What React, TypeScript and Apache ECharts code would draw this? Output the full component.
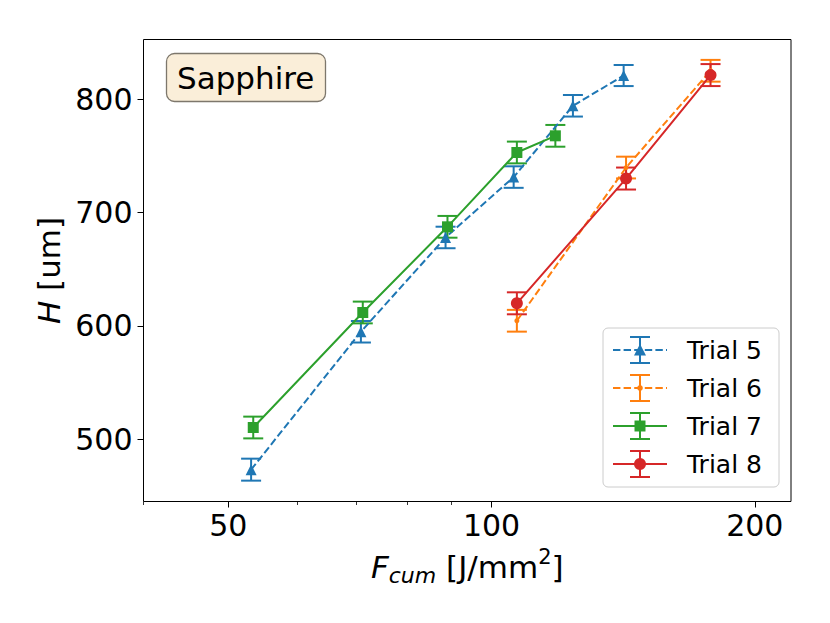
import React, { useEffect, useRef } from 'react';
import * as echarts from 'echarts';

const FONT = 'DejaVu Sans';

// ---- data ----
const trialNames = ['Trial 5', 'Trial 6', 'Trial 7', 'Trial 8'];
const trialColors = ['#1f77b4', '#ff7f0e', '#2ca02c', '#d62728'];

const trial5F = [53.1, 70.9, 88.6, 106.0, 123.9, 141.6];
const trial5H = [473.2, 594.9, 678.1, 731.4, 794.3, 821.0];
const trial5Err = [9.7, 9.5, 9.5, 9.5, 9.5, 9.3];

const trial6F = [106.9, 142.5, 178.0];
const trial6H = [604.6, 739.8, 825.2];
const trial6Err = [9.6, 9.6, 9.6];

const trial7F = [53.4, 71.25, 89.05, 106.9, 118.3];
const trial7H = [510.4, 611.9, 687.5, 753.1, 767.8];
const trial7Err = [9.6, 9.6, 9.6, 9.6, 9.6];

const trial8F = [106.9, 142.5, 178.0];
const trial8H = [620.0, 730.1, 821.4];
const trial8Err = [9.7, 9.7, 9.7];

const xMajorTicks = [50, 100, 200];
const xMinorTicks = [40, 60, 70, 80, 90];
const yTicks = [500, 600, 700, 800];
const xLimits = [40, 220];
const yLimits = [445.1, 852.8];

const L = (v: number) => Math.log(v);

function buildSeries() {
  const sets = [
    { F: trial5F, H: trial5H, E: trial5Err, symbol: 'triangle', size: 11, dashed: true },
    { F: trial6F, H: trial6H, E: trial6Err, symbol: 'circle', size: 5, dashed: true },
    { F: trial7F, H: trial7H, E: trial7Err, symbol: 'rect', size: 11, dashed: false },
    { F: trial8F, H: trial8H, E: trial8Err, symbol: 'circle', size: 12, dashed: false },
  ];
  const out: any[] = [];
  sets.forEach((s, i) => {
    const color = trialColors[i];
    out.push({
      type: 'custom',
      name: trialNames[i] + ' err',
      xAxisIndex: 0,
      yAxisIndex: 0,
      silent: true,
      data: s.F.map((f, k) => [L(f), s.H[k], s.E[k]]),
      encode: { x: 0, y: 1 },
      renderItem: (params: any, api: any) => {
        const x = api.value(0);
        const y = api.value(1);
        const e = api.value(2);
        const p1 = api.coord([x, y + e]);
        const p2 = api.coord([x, y - e]);
        const c = p1[0];
        const hw = 10;
        const style = { stroke: color, lineWidth: 2, fill: 'none' };
        return {
          type: 'group',
          children: [
            { type: 'line', shape: { x1: c, y1: p1[1], x2: c, y2: p2[1] }, style },
            { type: 'line', shape: { x1: c - hw, y1: p1[1], x2: c + hw, y2: p1[1] }, style },
            { type: 'line', shape: { x1: c - hw, y1: p2[1], x2: c + hw, y2: p2[1] }, style },
          ],
        };
      },
    });
    out.push({
      type: 'line',
      name: trialNames[i],
      xAxisIndex: 0,
      yAxisIndex: 0,
      data: s.F.map((f, k) => [L(f), s.H[k]]),
      symbol: s.symbol,
      symbolSize: s.size,
      showSymbol: true,
      lineStyle: { color, width: 2, type: s.dashed ? [7.4, 3.2] : 'solid' },
      itemStyle: { color, borderWidth: 0 },
      emphasis: { disabled: true },
    });
  });
  return out;
}

function buildLegend() {
  const els: any[] = [];
  els.push({
    type: 'rect',
    shape: { x: 603, y: 328, width: 176, height: 159, r: 5 },
    style: { fill: 'rgba(255,255,255,0.8)', stroke: '#cccccc', lineWidth: 1 },
    z: 10,
  });
  const markers = ['triangle', 'dot', 'square', 'circle'];
  const dashed = [true, true, false, false];
  trialNames.forEach((name, i) => {
    const y = 350 + 38 * i;
    const color = trialColors[i];
    const cx = 640;
    els.push({
      type: 'line',
      shape: { x1: 613, y1: y, x2: 667, y2: y },
      style: { stroke: color, lineWidth: 2, lineDash: dashed[i] ? [7.4, 3.2] : null },
      z: 11,
    });
    const st = { stroke: color, lineWidth: 2 };
    els.push({ type: 'line', shape: { x1: cx, y1: y - 13, x2: cx, y2: y + 13 }, style: st, z: 11 });
    els.push({ type: 'line', shape: { x1: cx - 10, y1: y - 13, x2: cx + 10, y2: y - 13 }, style: st, z: 11 });
    els.push({ type: 'line', shape: { x1: cx - 10, y1: y + 13, x2: cx + 10, y2: y + 13 }, style: st, z: 11 });
    const m = markers[i];
    if (m === 'triangle') {
      els.push({ type: 'polygon', shape: { points: [[cx, y - 6], [cx - 6, y + 5.5], [cx + 6, y + 5.5]] }, style: { fill: color }, z: 12 });
    } else if (m === 'dot') {
      els.push({ type: 'circle', shape: { cx, cy: y, r: 2.8 }, style: { fill: color }, z: 12 });
    } else if (m === 'square') {
      els.push({ type: 'rect', shape: { x: cx - 5.5, y: y - 5.5, width: 11, height: 11 }, style: { fill: color }, z: 12 });
    } else {
      els.push({ type: 'circle', shape: { cx, cy: y, r: 6 }, style: { fill: color }, z: 12 });
    }
    els.push({
      type: 'text',
      x: 687,
      y: y,
      style: { text: name, fontSize: 25, fontFamily: FONT, fill: '#000', verticalAlign: 'middle', align: 'left' },
      z: 12,
    });
  });
  return els;
}

export default function App() {
  const ref = useRef<HTMLDivElement>(null);
  useEffect(() => {
    if (!ref.current) return;
    const chart = echarts.init(ref.current, null, { renderer: 'svg' });
    const axisText = { fontSize: 30, fontFamily: FONT, color: '#000' };
    chart.setOption({
      animation: false,
      backgroundColor: '#ffffff',
      title: {
        text: 'Sapphire',
        left: 166,
        top: 53,
        padding: [9, 11, 9, 11],
        backgroundColor: '#faeed9',
        borderColor: '#7d776c',
        borderWidth: 1.3,
        borderRadius: 8,
        textStyle: { fontSize: 31, fontFamily: FONT, color: '#000', fontWeight: 'normal', lineHeight: 31 },
      },
      grid: {
        left: 143.5,
        right: 39,
        top: 39.5,
        bottom: 121.5,
        show: true,
        borderColor: '#000',
        borderWidth: 1,
        backgroundColor: 'transparent',
        containLabel: false,
      },
      xAxis: [
        {
          type: 'value',
          position: 'bottom',
          min: L(xLimits[0]),
          max: L(xLimits[1]),
          axisLine: { show: false },
          splitLine: { show: false },
          axisTick: {
            show: true,
            length: 6,
            customValues: xMajorTicks.map(L),
            lineStyle: { color: '#000', width: 1 },
          },
          axisLabel: {
            ...axisText,
            margin: 9,
            customValues: xMajorTicks.map(L),
            formatter: (v: number) => String(Math.round(Math.exp(v))),
          },
          name: '{i|F}{s|cum}{n| [J/mm}{p|2}{n|]}',
          nameLocation: 'middle',
          nameGap: 45,
          nameTextStyle: {
            fontSize: 31,
            fontFamily: FONT,
            color: '#000',
            rich: {
              i: { fontSize: 31, fontFamily: FONT, fontStyle: 'italic', color: '#000', lineHeight: 40 },
              s: { fontSize: 22, fontFamily: FONT, fontStyle: 'italic', color: '#000', lineHeight: 28, verticalAlign: 'bottom' },
              n: { fontSize: 31, fontFamily: FONT, color: '#000', lineHeight: 40 },
              p: { fontSize: 21, fontFamily: FONT, color: '#000', lineHeight: 33, verticalAlign: 'top' },
            },
          },
        },
        {
          type: 'value',
          position: 'bottom',
          min: L(xLimits[0]),
          max: L(xLimits[1]),
          axisLine: { show: false },
          splitLine: { show: false },
          axisTick: {
            show: true,
            length: 3.5,
            customValues: xMinorTicks.map(L),
            lineStyle: { color: '#000', width: 0.8 },
          },
          axisLabel: { show: false },
        },
      ],
      yAxis: {
        type: 'value',
        min: yLimits[0],
        max: yLimits[1],
        axisLine: { show: false },
        splitLine: { show: false },
        axisTick: {
          show: true,
          length: 6,
          customValues: yTicks,
          lineStyle: { color: '#000', width: 1 },
        },
        axisLabel: {
          ...axisText,
          margin: 11,
          customValues: yTicks,
        },
        name: '{i|H} [um]',
        nameLocation: 'middle',
        nameRotate: 90,
        nameGap: 78,
        nameTextStyle: {
          fontSize: 31,
          fontFamily: FONT,
          color: '#000',
          rich: {
            i: { fontSize: 31, fontFamily: FONT, fontStyle: 'italic', color: '#000' },
          },
        },
      },
      series: buildSeries(),
      graphic: { elements: buildLegend() },
    });
    return () => chart.dispose();
  }, []);
  return (
    <div
      ref={ref}
      style={{ position: 'absolute', left: 0, top: 0, width: 830, height: 623, background: '#fff' }}
    />
  );
}
